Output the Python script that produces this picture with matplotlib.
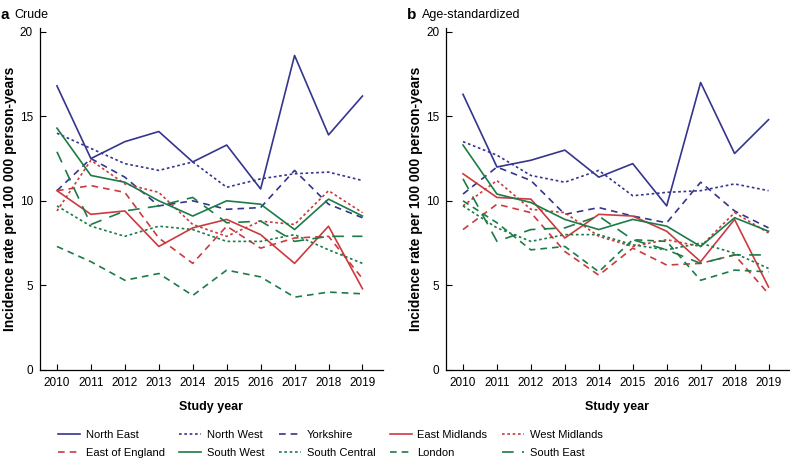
import matplotlib
matplotlib.use("Agg")
import matplotlib.pyplot as plt

years = list(range(2010, 2020))

regions = ["North East", "North West", "Yorkshire", "East Midlands", "West Midlands",
           "East of England", "South West", "South Central", "London", "South East"]

# panel a: crude rates
crude = {
    "North East":      [16.8, 12.5, 13.5, 14.1, 12.3, 13.3, 10.7, 18.6, 13.9, 16.2],
    "North West":      [14.0, 13.1, 12.2, 11.8, 12.3, 10.8, 11.3, 11.6, 11.7, 11.2],
    "Yorkshire":       [10.6, 12.5, 11.4, 9.7, 10.0, 9.5, 9.6, 11.8, 9.8, 9.0],
    "East Midlands":   [10.6, 9.2, 9.4, 7.3, 8.4, 8.9, 8.0, 6.3, 8.5, 4.8],
    "West Midlands":   [9.4, 12.4, 11.0, 10.5, 8.6, 7.9, 8.8, 8.6, 10.6, 9.3],
    "East of England": [10.6, 10.9, 10.5, 7.8, 6.3, 8.5, 7.2, 7.8, 7.9, 5.4],
    "South West":      [14.3, 11.5, 11.1, 10.0, 9.1, 10.0, 9.8, 8.3, 10.1, 9.1],
    "South Central":   [9.7, 8.5, 7.9, 8.5, 8.3, 7.6, 7.6, 8.0, 7.1, 6.3],
    "London":          [7.3, 6.4, 5.3, 5.7, 4.4, 5.9, 5.5, 4.3, 4.6, 4.5],
    "South East":      [12.9, 8.6, 9.4, 9.7, 10.2, 8.7, 8.8, 7.6, 7.9, 7.9],
}

# panel b: age-standardized rates
agestd = {
    "North East":      [16.3, 12.0, 12.4, 13.0, 11.4, 12.2, 9.7, 17.0, 12.8, 14.8],
    "North West":      [13.5, 12.7, 11.5, 11.1, 11.8, 10.3, 10.5, 10.6, 11.0, 10.6],
    "Yorkshire":       [10.4, 12.0, 11.2, 9.2, 9.6, 9.1, 8.7, 11.1, 9.4, 8.4],
    "East Midlands":   [11.6, 10.2, 10.1, 7.8, 9.2, 9.1, 8.2, 6.4, 8.9, 4.9],
    "West Midlands":   [9.7, 11.2, 9.5, 9.3, 7.9, 7.3, 7.7, 7.3, 9.3, 8.1],
    "East of England": [8.3, 9.8, 9.3, 7.0, 5.6, 7.2, 6.2, 6.3, 6.8, 4.5],
    "South West":      [13.3, 10.4, 9.9, 8.9, 8.3, 8.9, 8.5, 7.3, 9.0, 8.2],
    "South Central":   [9.7, 8.4, 7.6, 8.0, 8.0, 7.4, 7.1, 7.5, 6.9, 6.0],
    "London":          [10.0, 8.7, 7.1, 7.3, 5.8, 7.7, 7.6, 5.3, 5.9, 5.8],
    "South East":      [11.3, 7.6, 8.3, 8.4, 9.1, 7.7, 7.1, 6.3, 6.8, 6.8],
}

NAVY, RED, GREEN = "#34358c", "#cc3a3e", "#1c7b46"
DOT = (0, (1.6, 1.6))
DASH = (0, (4, 3))
LDASH = (0, (7, 5))
style = {
    "North East": (NAVY, "-"),
    "North West": (NAVY, DOT),
    "Yorkshire": (NAVY, DASH),
    "East Midlands": (RED, "-"),
    "West Midlands": (RED, DOT),
    "East of England": (RED, DASH),
    "South West": (GREEN, "-"),
    "South Central": (GREEN, DOT),
    "London": (GREEN, DASH),
    "South East": (GREEN, LDASH),
}

plt.rcParams["font.family"] = ["Liberation Sans", "DejaVu Sans"]

fig = plt.figure(figsize=(7.9, 4.67), dpi=100)
ax_a = fig.add_axes([0.0506, 0.208, 0.434, 0.733])
ax_b = fig.add_axes([0.5646, 0.208, 0.434, 0.733])

lines = {}
for ax, data, letter, name in [(ax_a, crude, "a", "Crude"),
                               (ax_b, agestd, "b", "Age-standardized")]:
    for r in regions:
        c, ls = style[r]
        ln, = ax.plot(years, data[r], color=c, linestyle=ls, lw=1.2, label=r)
        lines[r] = ln
    ax.set_xlim(2009.5, 2019.6)
    ax.set_ylim(0, 20.25)
    ax.set_xticks(years)
    ax.set_yticks([0, 5, 10, 15, 20])
    ax.tick_params(direction="in", labelsize=8.5, length=4, width=0.8, pad=5)
    for s in ("top", "right"):
        ax.spines[s].set_visible(False)
    for s in ("left", "bottom"):
        ax.spines[s].set_linewidth(0.9)
    ax.set_xlabel("Study year", fontsize=9, fontweight="bold", labelpad=9)
    ax.set_ylabel("Incidence rate per 100 000 person-years", fontsize=10,
                  fontweight="bold", labelpad=2)
    x0 = ax.get_position().x0
    fig.text(x0 - 0.05 if letter == "a" else x0 - 0.049, 0.968, letter,
             fontsize=11, fontweight="bold", va="center")
    fig.text(x0 - 0.032 if letter == "a" else x0 - 0.03, 0.968, name,
             fontsize=9, va="center")

# legend filled column-wise, so reorder to read row by row
order = ["North East", "East of England", "North West", "South West",
         "Yorkshire", "South Central", "East Midlands", "London",
         "West Midlands", "South East"]
fig.legend([lines[r] for r in order], order, loc="lower left",
           bbox_to_anchor=(0.062, 0.0), ncol=5, frameon=False, fontsize=8,
           handlelength=2.0, columnspacing=1.3, handletextpad=0.5,
           labelspacing=0.75, borderaxespad=0.4)

fig.savefig("out.png", dpi=100)
